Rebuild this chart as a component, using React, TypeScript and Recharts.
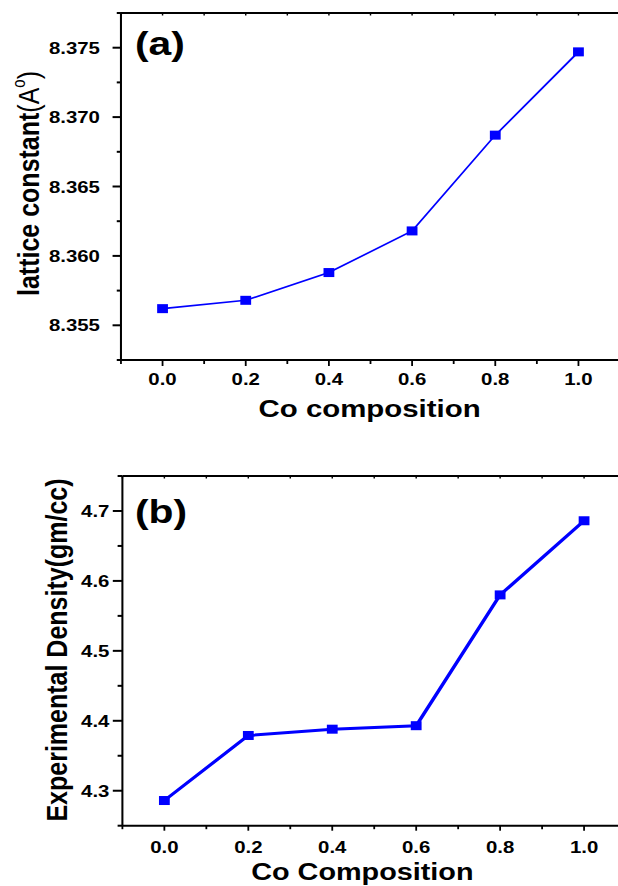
import React from 'react';
import { LineChart, Line, XAxis, YAxis } from 'recharts';

const compositions = [0, 0.2, 0.4, 0.6, 0.8, 1.0];
const latticeConstant = [8.3562, 8.3568, 8.3588, 8.3618, 8.3687, 8.3747];
const density = [4.286, 4.379, 4.388, 4.393, 4.58, 4.686];

const xMajorTicks = [0, 0.2, 0.4, 0.6, 0.8, 1.0];
const xMinorTicks = [-0.1, 0.1, 0.3, 0.5, 0.7, 0.9, 1.1];
const xTickLabels = ['0.0', '0.2', '0.4', '0.6', '0.8', '1.0'];

const latticeMajorTicks = [8.355, 8.36, 8.365, 8.37, 8.375];
const latticeMinorTicks = [8.3525, 8.3575, 8.3625, 8.3675, 8.3725, 8.3775];
const latticeTickLabels = ['8.355', '8.360', '8.365', '8.370', '8.375'];

const densityMajorTicks = [4.3, 4.4, 4.5, 4.6, 4.7];
const densityMinorTicks = [4.25, 4.35, 4.45, 4.55, 4.65, 4.75];
const densityTickLabels = ['4.3', '4.4', '4.5', '4.6', '4.7'];

const latticeData = compositions.map((x, i) => ({ x, y: latticeConstant[i] }));
const densityData = compositions.map((x, i) => ({ x, y: density[i] }));

const FONT = '"Liberation Sans", Arial, sans-serif';
const BLUE = '#0000ff';

const allTicks = (a: number[], b: number[]) => [...a, ...b].sort((p, q) => p - q);
const findIdx = (arr: number[], v: number) => arr.findIndex((m) => Math.abs(m - v) < 1e-7);

const makeBottomTick = (majors: number[], labels: string[], majorLen: number, minorLen: number, labelDy: number) =>
  (props: any) => {
    const { x, y, payload } = props;
    const idx = findIdx(majors, payload.value);
    const major = idx >= 0;
    return (
      <g>
        <line x1={x} y1={y} x2={x} y2={y + (major ? majorLen : minorLen)} stroke="#000" strokeWidth={1.5} />
        {major && (
          <text x={x} y={y + labelDy} textAnchor="middle" fontFamily={FONT} fontWeight="bold" fontSize={17} fill="#000">
            {labels[idx]}
          </text>
        )}
      </g>
    );
  };

const makeTopTick = (len: number) => (props: any) => {
  const { x, y } = props;
  return <line x1={x} y1={y} x2={x} y2={y + len} stroke="#000" strokeWidth={1.2} />;
};

const makeLeftTick = (majors: number[], labels: string[], majorLen: number, minorLen: number, gap: number) =>
  (props: any) => {
    const { x, y, payload } = props;
    const idx = findIdx(majors, payload.value);
    const major = idx >= 0;
    return (
      <g>
        <line x1={x} y1={y} x2={x - (major ? majorLen : minorLen)} y2={y} stroke="#000" strokeWidth={2} />
        {major && (
          <text x={x - gap} y={y} dy="0.36em" textAnchor="end" fontFamily={FONT} fontWeight="bold" fontSize={17} fill="#000">
            {labels[idx]}
          </text>
        )}
      </g>
    );
  };

const squareDot = (p: any) => (
  <rect key={`d-${p.index}`} x={p.cx - 4.5} y={p.cy - 4.5} width={9} height={9} fill={BLUE} />
);

export default function App() {
  return (
    <div style={{ position: 'absolute', left: 0, top: 0, width: 618, height: 886, overflow: 'hidden', background: '#fff' }}>
      <div style={{ position: 'absolute', left: 0, top: 0, width: 540, height: 886, transform: 'scaleX(1.2)', transformOrigin: '0 0' }}>
        <div style={{ position: 'absolute', left: 0, top: 0 }}>
          <LineChart width={540} height={440} data={latticeData} margin={{ top: 12, right: 23.3, bottom: 79, left: 99.8 }}>
            <XAxis
              dataKey="x"
              type="number"
              domain={[-0.1, 1.1]}
              ticks={allTicks(xMajorTicks, xMinorTicks)}
              interval={0}
              height={1}
              tickSize={0}
              tickMargin={0}
              tickLine={false}
              axisLine={{ stroke: '#000', strokeWidth: 2 }}
              tick={makeBottomTick(xMajorTicks, xTickLabels, 6, 4, 25)}
              allowDataOverflow
            />
            <XAxis
              xAxisId="top"
              orientation="top"
              dataKey="x"
              type="number"
              domain={[-0.1, 1.1]}
              ticks={allTicks(xMajorTicks, xMinorTicks)}
              interval={0}
              height={1}
              tickSize={0}
              tickMargin={0}
              tickLine={false}
              axisLine={{ stroke: '#000', strokeWidth: 2 }}
              tick={makeTopTick(2.5)}
              allowDataOverflow
            />
            <YAxis
              type="number"
              domain={[8.3525, 8.3775]}
              ticks={allTicks(latticeMajorTicks, latticeMinorTicks)}
              interval={0}
              width={1}
              tickSize={0}
              tickMargin={0}
              tickLine={false}
              axisLine={{ stroke: '#000', strokeWidth: 1.7 }}
              tick={makeLeftTick(latticeMajorTicks, latticeTickLabels, 7, 3.5, 17.5)}
              allowDataOverflow
            />
            <Line dataKey="y" type="linear" stroke={BLUE} strokeWidth={1.6} dot={squareDot} isAnimationActive={false} />
            <text x={112.5} y={55} fontFamily={FONT} fontWeight="bold" fontSize={34} fill="#000">(a)</text>
            <text x={308} y={417} textAnchor="middle" fontFamily={FONT} fontWeight="bold" fontSize={24.5} fill="#000">Co composition</text>
            <text
              x={32.5}
              y={183.5}
              textAnchor="middle"
              transform="rotate(-90 32.5 183.5)"
              fontFamily={FONT}
              fontSize={25}
              fill="#000"
            >
              <tspan fontWeight="bold">lattice constant</tspan>
              <tspan>(A</tspan>
              <tspan fontSize={15} dy={-12}>o</tspan>
              <tspan dy={12}>)</tspan>
            </text>
          </LineChart>
        </div>
        <div style={{ position: 'absolute', left: 0, top: 440 }}>
          <LineChart width={540} height={446} data={densityData} margin={{ top: 35, right: 18.3, bottom: 59.3, left: 101 }}>
            <XAxis
              dataKey="x"
              type="number"
              domain={[-0.1, 1.1]}
              ticks={allTicks(xMajorTicks, xMinorTicks)}
              interval={0}
              height={1}
              tickSize={0}
              tickMargin={0}
              tickLine={false}
              axisLine={{ stroke: '#000', strokeWidth: 2 }}
              tick={makeBottomTick(xMajorTicks, xTickLabels, 5, 3.5, 27)}
              allowDataOverflow
            />
            <XAxis
              xAxisId="top"
              orientation="top"
              dataKey="x"
              type="number"
              domain={[-0.1, 1.1]}
              ticks={allTicks(xMajorTicks, xMinorTicks)}
              interval={0}
              height={1}
              tickSize={0}
              tickMargin={0}
              tickLine={false}
              axisLine={{ stroke: '#000', strokeWidth: 2 }}
              tick={makeTopTick(2.5)}
              allowDataOverflow
            />
            <YAxis
              type="number"
              domain={[4.25, 4.75]}
              ticks={allTicks(densityMajorTicks, densityMinorTicks)}
              interval={0}
              width={1}
              tickSize={0}
              tickMargin={0}
              tickLine={false}
              axisLine={{ stroke: '#000', strokeWidth: 1.7 }}
              tick={makeLeftTick(densityMajorTicks, densityTickLabels, 8, 4, 10.8)}
              allowDataOverflow
            />
            <Line dataKey="y" type="linear" stroke={BLUE} strokeWidth={3} dot={squareDot} isAnimationActive={false} />
            <text x={112.5} y={83} fontFamily={FONT} fontWeight="bold" fontSize={34} fill="#000">(b)</text>
            <text x={302} y={440} textAnchor="middle" fontFamily={FONT} fontWeight="bold" fontSize={24} fill="#000">Co Composition</text>
            <text
              x={55.6}
              y={210}
              textAnchor="middle"
              transform="rotate(-90 55.6 210)"
              fontFamily={FONT}
              fontWeight="bold"
              fontSize={25}
              fill="#000"
            >
              Experimental Density(gm/cc)
            </text>
          </LineChart>
        </div>
      </div>
    </div>
  );
}
